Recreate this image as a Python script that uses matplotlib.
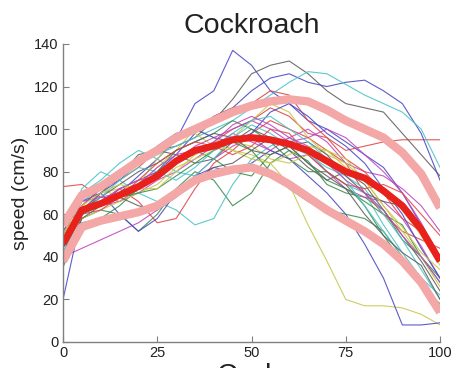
import numpy as np
import matplotlib
matplotlib.use("Agg")
import matplotlib.pyplot as plt

plt.rcParams['font.family'] = ['Liberation Sans', 'DejaVu Sans']

# stride phase (% of cycle)
phase = list(range(0, 101, 5))

# individual stride speed traces (cm/s)
trials = [
    [48, 62, 66, 70, 78, 86, 95, 112, 118, 137, 130, 118, 112, 104, 100, 94, 88, 82, 70, 55, 40],
    [35, 58, 62, 60, 52, 60, 72, 80, 76, 64, 70, 84, 90, 85, 74, 70, 68, 62, 48, 40, 28],
    [73, 74, 68, 66, 72, 80, 86, 88, 94, 100, 104, 110, 106, 98, 96, 90, 92, 94, 95, 95, 95],
    [50, 72, 80, 76, 70, 66, 62, 55, 58, 74, 86, 92, 96, 90, 80, 74, 70, 55, 42, 30, 22],
    [40, 44, 48, 52, 56, 62, 70, 78, 86, 92, 96, 90, 86, 88, 80, 72, 68, 66, 58, 45, 30],
    [52, 62, 70, 72, 74, 82, 90, 100, 96, 90, 88, 84, 74, 55, 38, 20, 17, 17, 16, 13, 8],
    [46, 60, 70, 78, 88, 90, 92, 96, 104, 114, 126, 130, 132, 126, 118, 112, 110, 108, 98, 88, 78],
    [20, 60, 64, 72, 76, 80, 88, 98, 106, 110, 118, 124, 126, 122, 120, 122, 123, 118, 112, 98, 76],
    [42, 60, 66, 70, 74, 78, 84, 90, 86, 80, 78, 88, 92, 84, 76, 72, 66, 60, 55, 40, 30],
    [55, 62, 66, 72, 66, 56, 58, 72, 84, 90, 98, 104, 100, 96, 90, 84, 70, 60, 52, 48, 44],
    [48, 66, 72, 80, 84, 88, 92, 96, 100, 104, 110, 116, 122, 127, 126, 121, 116, 112, 108, 100, 82],
    [45, 62, 64, 66, 70, 76, 80, 86, 92, 98, 94, 90, 96, 100, 94, 84, 80, 78, 72, 64, 52],
    [50, 68, 72, 68, 74, 86, 96, 98, 92, 96, 104, 112, 108, 96, 88, 84, 76, 70, 62, 50, 36],
    [44, 64, 72, 80, 86, 90, 88, 84, 86, 94, 100, 96, 90, 82, 76, 80, 74, 62, 50, 38, 24],
    [52, 66, 70, 60, 52, 58, 70, 78, 82, 80, 84, 90, 86, 78, 70, 60, 46, 30, 8, 8, 9],
    [38, 56, 58, 64, 72, 80, 90, 94, 98, 104, 100, 94, 86, 80, 80, 74, 64, 50, 38, 26, 14],
    [50, 64, 72, 76, 82, 90, 96, 100, 106, 110, 112, 118, 116, 104, 96, 86, 80, 70, 58, 52, 40],
    [54, 70, 76, 84, 90, 86, 80, 78, 86, 96, 102, 98, 92, 88, 82, 78, 72, 60, 48, 34, 20],
    [48, 60, 66, 72, 76, 78, 84, 92, 96, 100, 104, 100, 94, 96, 100, 96, 88, 80, 70, 56, 38],
    [46, 58, 62, 66, 70, 74, 82, 86, 90, 94, 92, 86, 84, 88, 90, 86, 76, 64, 52, 40, 26],
    [50, 62, 68, 74, 80, 84, 90, 94, 98, 96, 90, 88, 92, 94, 88, 78, 70, 66, 64, 54, 40],
    [44, 62, 70, 76, 84, 92, 98, 100, 96, 94, 98, 108, 112, 106, 98, 92, 84, 72, 60, 44, 30],
    [46, 60, 64, 68, 70, 72, 78, 84, 90, 94, 90, 80, 72, 66, 62, 60, 58, 52, 40, 26, 18],
    [48, 60, 62, 68, 76, 84, 90, 94, 92, 88, 92, 100, 98, 88, 80, 74, 72, 74, 70, 60, 50],
    [42, 60, 68, 76, 82, 80, 76, 82, 90, 98, 104, 106, 100, 94, 86, 76, 64, 52, 40, 30, 16],
    [52, 66, 68, 70, 74, 82, 88, 90, 94, 102, 106, 102, 96, 92, 84, 76, 70, 62, 50, 40, 28],
    [50, 64, 70, 74, 72, 72, 80, 88, 92, 90, 86, 84, 88, 92, 90, 82, 76, 64, 54, 42, 34],
    [40, 58, 64, 68, 64, 62, 68, 76, 82, 84, 90, 96, 92, 84, 78, 72, 60, 50, 42, 36, 20],
]

# mean speed and mean +/- one standard deviation
mean_speed = [46, 62, 65, 69, 73, 78, 85, 90, 92, 95, 96, 95, 93, 90, 85, 80, 77, 71, 64, 53, 38]
upper_band = [55, 69, 73, 79, 85, 90, 96, 100, 104, 108, 111, 113, 114, 113, 109, 104, 100, 96, 89, 79, 63]
lower_band = [38, 54, 57, 59, 61, 64, 70, 76, 79, 81, 82, 79, 74, 68, 62, 57, 52, 46, 38, 28, 14]

trace_colors = ['#4a4ac8', '#3c8c50', '#e04848', '#4cc4c8', '#c048c0', '#c8c84c', '#606060']

fig = plt.figure(figsize=(4.61, 3.68), dpi=100)
ax = fig.add_axes([0.1367, 0.0707, 0.8178, 0.8098])

for i, tr in enumerate(trials):
    ax.plot(phase, tr, color=trace_colors[i % len(trace_colors)], lw=0.8, alpha=0.9,
            solid_joinstyle='round')

ax.plot(phase, upper_band, color='#f3a7a7', lw=6, solid_capstyle='butt', solid_joinstyle='round')
ax.plot(phase, lower_band, color='#f3a7a7', lw=6, solid_capstyle='butt', solid_joinstyle='round')
ax.plot(phase, mean_speed, color='#e8211c', lw=5, solid_capstyle='butt', solid_joinstyle='round')

ax.set_xlim(0, 100)
ax.set_ylim(0, 140)
ax.set_xticks([0, 25, 50, 75, 100])
ax.set_yticks(range(0, 141, 20))

for side in ('top', 'right'):
    ax.spines[side].set_visible(False)
for side in ('left', 'bottom'):
    ax.spines[side].set_color('#808080')
    ax.spines[side].set_linewidth(1.0)

ax.tick_params(direction='in', length=4, width=0.8, color='#808080',
               labelsize=10.5, labelcolor='#222222', pad=3)
ax.set_ylabel('speed (cm/s)', fontsize=14, color='#222222', labelpad=4)
ax.set_title('Cockroach', fontsize=20.5, color='#222222', pad=8)

fig.text(0.547, -0.04, 'Cycle', fontsize=20.5, color='#222222', ha='center', va='baseline')

fig.savefig('out.png', dpi=100)
